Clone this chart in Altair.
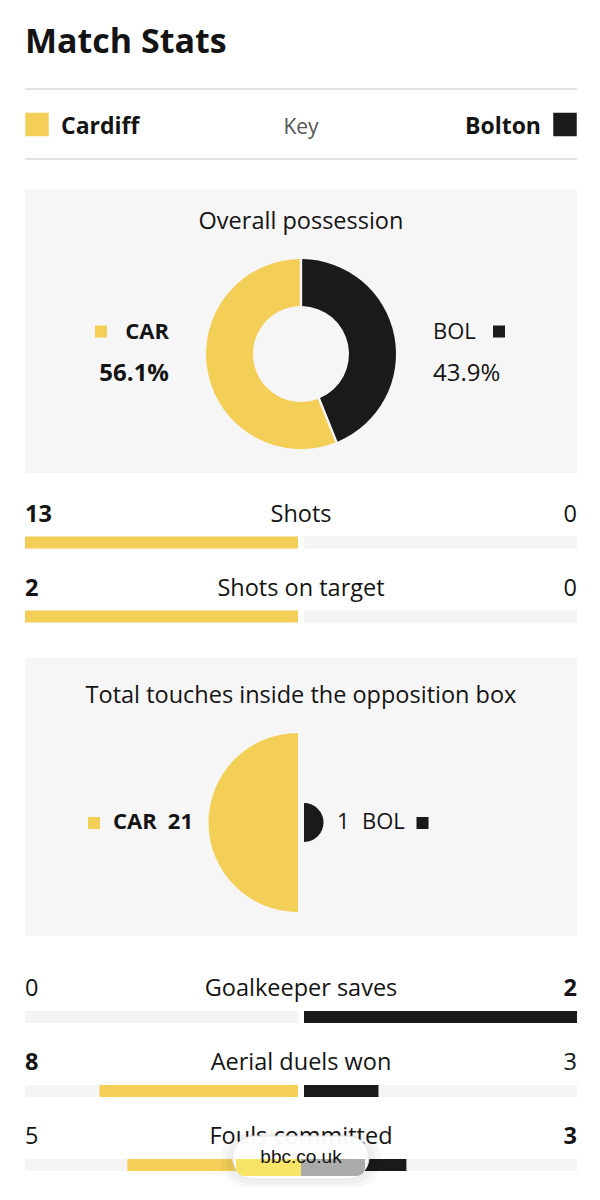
import math
import altair as alt
import pandas as pd

# ---------------- data ----------------
teams = ["Cardiff", "Bolton"]
abbrs = ["CAR", "BOL"]
possession = [56.1, 43.9]
touches_in_box = [21, 1]
stack_order = [1, 0]  # Bolton slice starts at 12 o'clock

stat_names = ["Shots", "Shots on target", "Goalkeeper saves", "Aerial duels won", "Fouls committed"]
car_values = [13, 2, 0, 8, 5]
bol_values = [0, 0, 2, 3, 3]
car_bold = [True, True, False, True, False]
bol_bold = [False, False, True, False, True]

page_title = ["Match Stats"]
key_label = ["Key"]
possession_title = ["Overall possession"]
touches_title = ["Total touches inside the opposition box"]
browser_url = ["bbc.co.uk"]

# ---------------- styling ----------------
YELLOW = "#F4CF57"
BLACK = "#1A1A1A"
PANEL = "#F6F6F6"
TRACK = "#F4F4F4"
TEXT = "#141414"
FONT = "Open Sans"
BODY = 23.5
W = 552

team_df = pd.DataFrame({"team": teams, "abbr": abbrs, "possession": possession,
                        "touches": touches_in_box, "ord": stack_order})
misc_df = pd.DataFrame({"title": page_title, "key": key_label, "pt": possession_title,
                        "tt": touches_title, "url": browser_url})
bars_df = pd.DataFrame({"stat": stat_names, "car": car_values, "bol": bol_values,
                        "car_bold": car_bold, "bol_bold": bol_bold})

color_enc = alt.Color("abbr:N", scale=alt.Scale(domain=abbrs, range=[YELLOW, BLACK]), legend=None)


def label(data, text, x, y, align="left", size=22, bold=False, color=TEXT, filt=None, font=FONT):
    ch = alt.Chart(data)
    if filt is not None:
        ch = ch.transform_filter(filt)
    return ch.mark_text(align=align, baseline="alphabetic", font=font, fontSize=size,
                        fontWeight="bold" if bold else "normal", color=color).encode(
        x=alt.value(x), y=alt.value(y), text=text)


def square(team, cx, cy, side):
    h = side / 2
    return alt.Chart(team_df).transform_filter(alt.datum.abbr == team).mark_rect().encode(
        x=alt.value(cx - h), x2=alt.value(cx + h), y=alt.value(cy - h), y2=alt.value(cy + h),
        color=color_enc)


def rule(y):
    return alt.Chart(misc_df).mark_rect(color="#D9D9D9").encode(
        x=alt.value(0), x2=alt.value(W), y=alt.value(y - 0.75), y2=alt.value(y + 0.75))


def panel(y0, y1):
    return alt.Chart(misc_df).mark_rect(color=PANEL).encode(
        x=alt.value(0), x2=alt.value(W), y=alt.value(y0), y2=alt.value(y1))


# ---------------- header ----------------
s1 = alt.layer(
    label(misc_df, "title:N", 0, 44, size=34, bold=True),
    rule(80),
    square("CAR", 12, 115.5, 23.5),
    label(team_df, "team:N", 36, 125, size=23, bold=True, filt=alt.datum.abbr == "CAR"),
    label(misc_df, "key:N", 276, 125, align="center", size=21, color="#555555"),
    label(team_df, "team:N", 516, 125, align="right", size=23, bold=True, filt=alt.datum.abbr == "BOL"),
    square("BOL", 540, 115.5, 23.5),
    rule(150),
).properties(width=W, height=180)

# ---------------- possession donut ----------------
pct = alt.Chart(team_df).transform_calculate(lab="format(datum.possession, '.1f') + '%'")
s2 = alt.layer(
    panel(0, 284),
    label(misc_df, "pt:N", 276, 40, align="center", size=BODY),
    alt.Chart(team_df).mark_arc(outerRadius=95, innerRadius=48, padAngle=0.022).encode(
        theta=alt.Theta("possession:Q", stack=True),
        color=color_enc,
        order=alt.Order("ord:Q"),
        x=alt.value(276), y=alt.value(165)),
    square("CAR", 76, 142.5, 12),
    label(team_df, "abbr:N", 144, 150, align="right", size=22, bold=True, filt=alt.datum.abbr == "CAR"),
    pct.transform_filter(alt.datum.abbr == "CAR").mark_text(
        align="right", baseline="alphabetic", font=FONT, fontSize=24, fontWeight="bold", color=TEXT).encode(
        x=alt.value(144), y=alt.value(192), text="lab:N"),
    label(team_df, "abbr:N", 408, 150, align="left", size=22, filt=alt.datum.abbr == "BOL"),
    square("BOL", 474, 142.5, 12),
    pct.transform_filter(alt.datum.abbr == "BOL").mark_text(
        align="left", baseline="alphabetic", font=FONT, fontSize=24, color=TEXT).encode(
        x=alt.value(408), y=alt.value(192), text="lab:N"),
).properties(width=W, height=302)


# ---------------- comparison bar rows ----------------
def rows_chart(names, bar_off, text_dy, extra=None):
    base = alt.Chart(bars_df).transform_filter(
        alt.FieldOneOfPredicate(field="stat", oneOf=names)).transform_calculate(
        total="datum.car + datum.bol",
        car_share="datum.total > 0 ? datum.car / datum.total : 0",
        bol_share="datum.total > 0 ? datum.bol / datum.total : 0",
        zero="0", one="1")
    yenc = alt.Y("stat:N", sort=names, axis=None,
                 scale=alt.Scale(paddingInner=0, paddingOuter=0))
    lscale = alt.Scale(domain=[0, 1], range=[273, 0])
    rscale = alt.Scale(domain=[0, 1], range=[279, W])

    def bar(field, scale, color):
        return base.mark_bar(size=12, color=color).encode(
            x=alt.X(field, scale=scale, axis=None), x2="zero:Q", y=yenc,
            yOffset=alt.value(bar_off))

    left = alt.layer(bar("one:Q", lscale, TRACK), bar("car_share:Q", lscale, YELLOW))
    right = alt.layer(bar("one:Q", rscale, TRACK), bar("bol_share:Q", rscale, BLACK))

    def txt(field, x, align, bold, filt=None):
        ch = base
        if filt is not None:
            ch = ch.transform_filter(filt)
        return ch.mark_text(align=align, baseline="alphabetic", dy=text_dy, font=FONT, fontSize=BODY,
                            fontWeight="bold" if bold else "normal", color=TEXT).encode(
            x=alt.value(x), y=yenc, text=field)

    layers = [left, right,
              txt("stat:N", 276, "center", False),
              txt("car:Q", 0, "left", True, "datum.car_bold"),
              txt("car:Q", 0, "left", False, "!datum.car_bold"),
              txt("bol:Q", W, "right", True, "datum.bol_bold"),
              txt("bol:Q", W, "right", False, "!datum.bol_bold")]
    if extra:
        layers += extra
    return alt.layer(*layers).resolve_scale(x="independent").properties(width=W, height=74 * len(names))


s3 = rows_chart(stat_names[:2], 51.5, -6.5)

# ---------------- touches in the box (half circles, area-scaled) ----------------
rscale_t = alt.Scale(type="sqrt", zero=True, nice=False, range=[0, 89.5])
s4 = alt.layer(
    panel(19, 297),
    label(misc_df, "tt:N", 276, 64, align="center", size=BODY),
    alt.Chart(team_df).transform_filter(alt.datum.abbr == "CAR").mark_arc(
        theta=math.pi, theta2=2 * math.pi).encode(
        radius=alt.Radius("touches:Q", scale=rscale_t), color=color_enc,
        x=alt.value(273), y=alt.value(183.5)),
    alt.Chart(team_df).transform_filter(alt.datum.abbr == "BOL").mark_arc(
        theta=0, theta2=math.pi).encode(
        radius=alt.Radius("touches:Q", scale=rscale_t), color=color_enc,
        x=alt.value(279), y=alt.value(183.5)),
    square("CAR", 69, 184, 12),
    label(team_df, "abbr:N", 88, 190, size=22, bold=True, filt=alt.datum.abbr == "CAR"),
    label(team_df, "touches:Q", 168, 190, align="right", size=22, bold=True, filt=alt.datum.abbr == "CAR"),
    label(team_df, "touches:Q", 312, 190, size=22, filt=alt.datum.abbr == "BOL"),
    label(team_df, "abbr:N", 337, 190, size=22, filt=alt.datum.abbr == "BOL"),
    square("BOL", 397.5, 184, 12),
).properties(width=W, height=326)

# ---------------- browser url pill (overlay in screenshot) ----------------
pill = [
    alt.Chart(misc_df).mark_rect(cornerRadius=26, color="#000000", opacity=0.03).encode(
        x=alt.value(196), x2=alt.value(356), y=alt.value(166), y2=alt.value(222)),
    alt.Chart(misc_df).mark_rect(cornerRadius=23, color="#000000", opacity=0.03).encode(
        x=alt.value(202), x2=alt.value(350), y=alt.value(169), y2=alt.value(219)),
    alt.Chart(misc_df).mark_rect(cornerRadius=21.5, color="white", opacity=0.96,
                                 stroke="#E4E4E4", strokeWidth=1).encode(
        x=alt.value(207.5), x2=alt.value(344), y=alt.value(171), y2=alt.value(214)),
    alt.Chart(misc_df).mark_rect(color="#F8E466", cornerRadiusBottomLeft=16).encode(
        x=alt.value(211), x2=alt.value(276), y=alt.value(194), y2=alt.value(211)),
    alt.Chart(misc_df).mark_rect(color="#ABABAB", cornerRadiusBottomRight=16).encode(
        x=alt.value(276), x2=alt.value(340), y=alt.value(194), y2=alt.value(211)),
    label(misc_df, "url:N", 276, 198, align="center", size=19, font="Liberation Sans"),
]

s5 = rows_chart(stat_names[2:], 52, -6, extra=pill)

chart = alt.vconcat(s1, s2, s3, s4, s5, spacing=0, bounds="flush").properties(
    padding={"left": 16, "top": 0, "right": 0, "bottom": 0},
    background="white",
).configure_view(stroke="transparent")

chart.save("out.html", embed_options={"renderer": "svg", "actions": False})
